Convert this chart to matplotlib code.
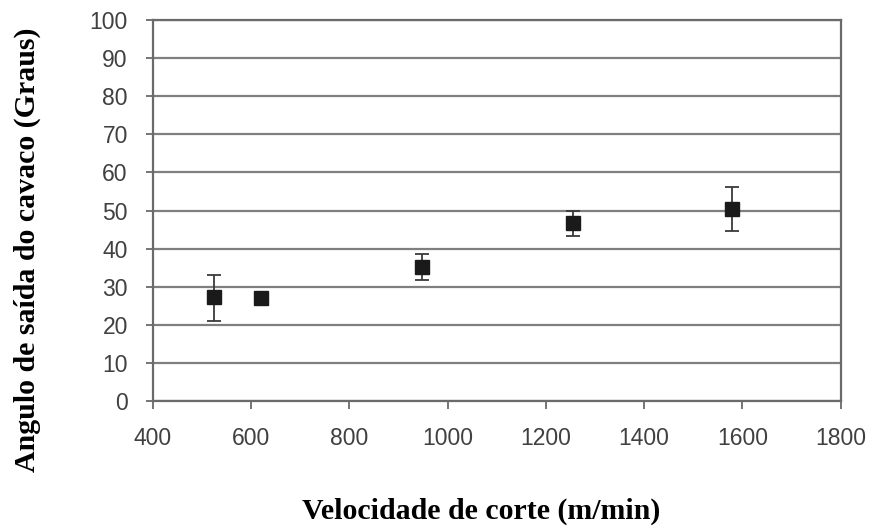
"""
Angulo de saida do cavaco versus velocidade de corte
"""
import matplotlib
matplotlib.use("Agg")
import matplotlib.pyplot as plt

# Values
velocidade = [524, 620, 948, 1256, 1578]
angulo = [27.2, 27.0, 35.1, 46.6, 50.4]
erro_inferior = [6.3, 0.6, 3.3, 3.3, 5.8]
erro_superior = [6.0, 0.6, 3.4, 3.3, 5.8]

x_ticks = [400, 600, 800, 1000, 1200, 1400, 1600, 1800]
y_ticks = list(range(0, 101, 10))


def plot_angulo():
    fig = plt.figure(figsize=(8.73, 5.29), dpi=100)
    ax = fig.add_axes([0.175, 0.242, 0.788, 0.720])

    # Grid lines on every y tick
    ax.set_axisbelow(True)
    ax.grid(axis="y", color="#7f7f7f", linewidth=1.6)

    ax.errorbar(velocidade, angulo, yerr=[erro_inferior, erro_superior],
                fmt="s", color="#1a1a1a", markersize=10.5,
                ecolor="#3a3a3a", elinewidth=1.3, capsize=5, capthick=1.3)

    ax.set_xlim(400, 1800)
    ax.set_ylim(0, 100)
    ax.set_xticks(x_ticks)
    ax.set_yticks(y_ticks)

    for side in ["left", "right", "bottom", "top"]:
        ax.spines[side].set_color("#6a6a6a")
        ax.spines[side].set_linewidth(1.6)
    ax.tick_params(axis="x", direction="out", length=6, width=1.3,
                   colors="#6a6a6a", labelcolor="#404040",
                   labelsize=16.5, pad=13)
    ax.tick_params(axis="y", direction="out", length=5, width=1.3,
                   colors="#6a6a6a", labelcolor="#404040",
                   labelsize=16.5, pad=13)
    for label in ax.get_xticklabels() + ax.get_yticklabels():
        label.set_family("Liberation Sans")

    ax.set_xlabel("Velocidade de corte (m/min)", family="Liberation Serif",
                  fontweight="bold", fontsize=21.5, va="center")
    ax.xaxis.set_label_coords(0.477, -0.289)
    ax.set_ylabel("Angulo de saída do cavaco (Graus)", family="Liberation Serif",
                  fontweight="bold", fontsize=21.5, va="center")
    ax.yaxis.set_label_coords(-0.183, 0.396)

    fig.savefig("out.png", dpi=100)
    plt.close(fig)


if __name__ == "__main__":
    plot_angulo()
